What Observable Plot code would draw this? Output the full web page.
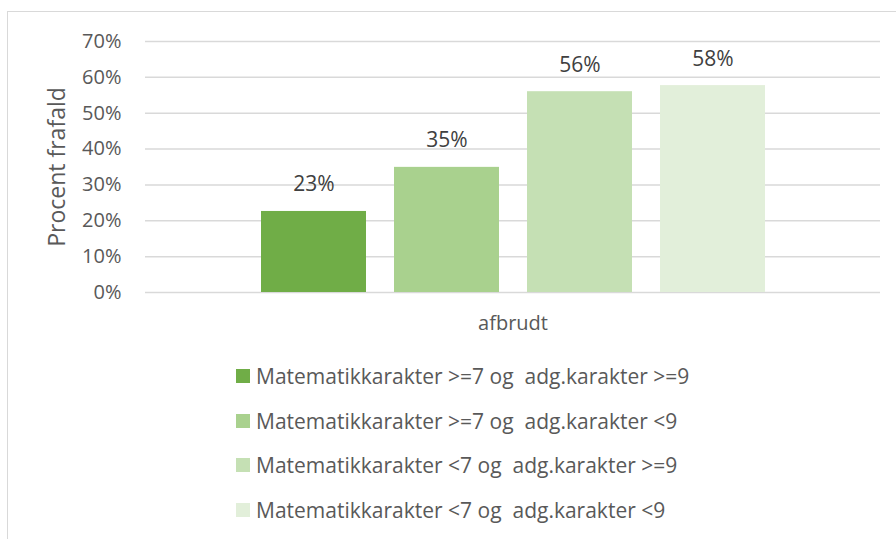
<!DOCTYPE html>
<html>
<head>
<meta charset="utf-8">
<script src="https://cdn.jsdelivr.net/npm/d3@7"></script>
<script src="https://cdn.jsdelivr.net/npm/@observablehq/plot@0.6"></script>
<style>
  html, body { margin: 0; padding: 0; background: #fff; }
  #wrap { position: relative; width: 896px; height: 539px; overflow: hidden; font-family: "Open Sans", sans-serif; }
  #frame { position: absolute; left: 7px; top: 11px; width: 1000px; height: 1000px; border: 1px solid #d9d9d9; box-sizing: border-box; }
  #chart { position: absolute; left: 0; top: 0; }
  #legend { position: absolute; left: 236px; top: 354px; }
  .row { display: flex; align-items: center; height: 44.6px; }
  .sw { width: 14px; height: 14px; margin-right: 6px; }
  .lt { font-size: 21px; color: #595959; white-space: pre; }
</style>
</head>
<body>
<div id="wrap">
  <div id="frame"></div>
  <div id="chart"></div>
  <div id="legend"></div>
</div>
<script>
const categories = ["afbrudt"];
const series = [
  "Matematikkarakter >=7 og  adg.karakter >=9",
  "Matematikkarakter >=7 og  adg.karakter <9",
  "Matematikkarakter <7 og  adg.karakter >=9",
  "Matematikkarakter <7 og  adg.karakter <9"
];
const values = [0.226, 0.349, 0.56, 0.577];
const colors = ["#70ad47", "#a9d18e", "#c5e0b4", "#e2efda"];
const yTicks = [0, 0.1, 0.2, 0.3, 0.4, 0.5, 0.6, 0.7];
const yLabel = "Procent frafald";

const data = series.map((s, i) => ({category: categories[0], series: s, value: values[i]}));
const pct = d3.format(".0%");

const chart = Plot.plot({
  width: 896,
  height: 345,
  marginTop: 41,
  marginBottom: 53,
  marginLeft: 145,
  marginRight: 16,
  style: {fontFamily: "'Open Sans', sans-serif", fontSize: "20px", color: "#595959", background: "transparent"},
  fx: {domain: categories, padding: 0, label: null, axis: "bottom", tickSize: 0, tickPadding: 23, fontSize: 21},
  x: {domain: series, paddingInner: 0.2125, paddingOuter: 0.863, axis: null},
  y: {domain: [0, 0.7]},
  color: {domain: series, range: colors},
  marks: [
    Plot.gridY(yTicks, {stroke: "#d9d9d9", strokeOpacity: 1, strokeWidth: 1.5}),
    Plot.axisY(yTicks, {tickSize: 0, tickPadding: 24, tickFormat: pct, fontSize: 20, fill: "#595959",
      label: yLabel, labelAnchor: "center", labelArrow: "none", labelOffset: 97}),
    Plot.barY(data, {fx: "category", x: "series", y: "value", fill: "series"}),
    Plot.text(data, {fx: "category", x: "series", y: "value", text: d => pct(d.value),
      lineAnchor: "bottom", dy: -20, fill: "#404040", fontSize: 21})
  ]
});
document.getElementById("chart").appendChild(chart);

// y-axis title font size
chart.querySelectorAll("text").forEach(t => {
  if (t.textContent === yLabel) t.setAttribute("font-size", "23px");
});

const legend = document.getElementById("legend");
series.forEach((s, i) => {
  const row = document.createElement("div");
  row.className = "row";
  const sw = document.createElement("div");
  sw.className = "sw";
  sw.style.background = colors[i];
  const lt = document.createElement("span");
  lt.className = "lt";
  lt.textContent = s;
  row.appendChild(sw);
  row.appendChild(lt);
  legend.appendChild(row);
});
</script>
</body>
</html>
